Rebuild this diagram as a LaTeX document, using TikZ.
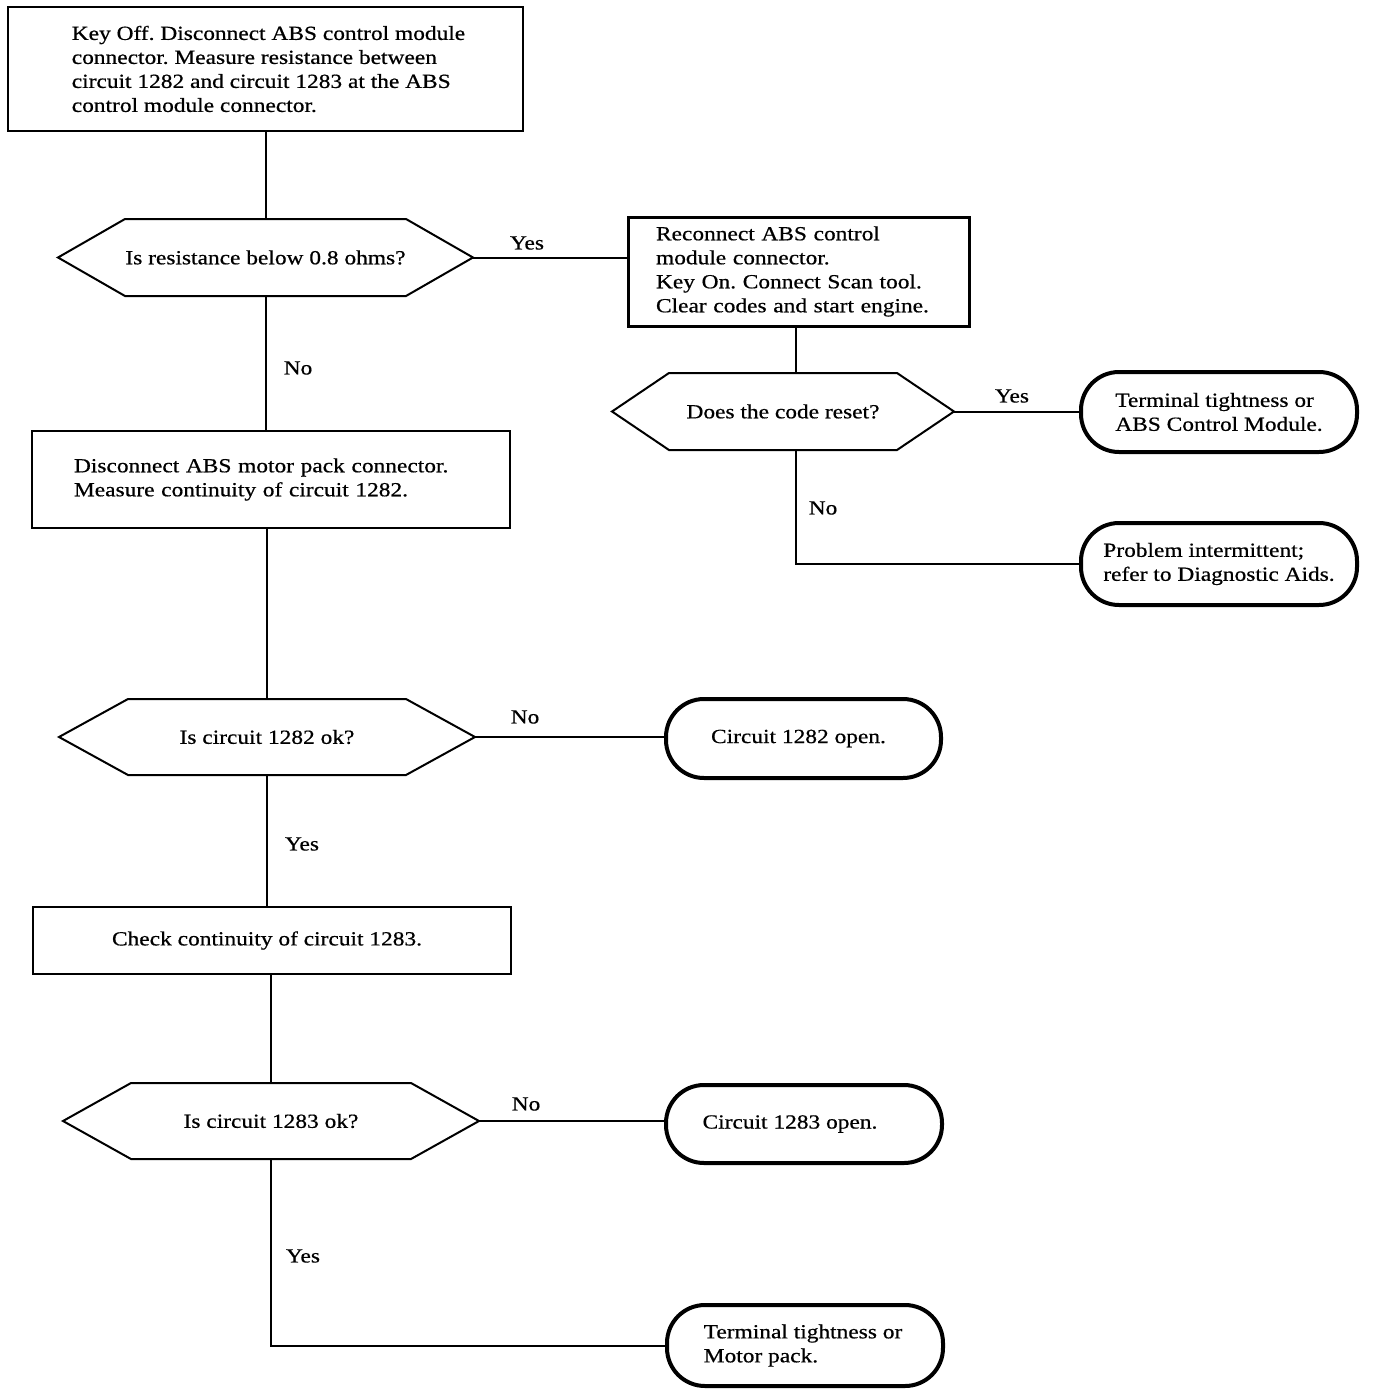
\documentclass[tikz,border=0pt]{standalone}
\usepackage{fontspec}
\setmainfont{Liberation Serif}[FakeStretch=1.17,FakeBold=0.6]
\frenchspacing
\newcommand\hexoutline[2]{%
  \draw[hexline] (#1.west) -- ([xshift=#2pt]#1.north west) -- ([xshift=-#2pt]#1.north east)
    -- (#1.east) -- ([xshift=-#2pt]#1.south east) -- ([xshift=#2pt]#1.south west) -- cycle;}
\begin{document}
\begin{tikzpicture}[x=1pt,y=-1pt,
  every node/.style={font=\fontsize{20}{24}\selectfont, inner sep=0pt, outer sep=0pt},
  box/.style={draw, line width=2pt, align=left},
  boxthick/.style={draw, line width=3pt, align=left},
  hexnode/.style={draw=none, minimum height=77pt},
  hexline/.style={line width=2pt, line join=miter},
  term/.style={draw, line width=4pt, rounded corners=38pt, align=left},
  conn/.style={line width=2pt},
  lbl/.style={}]
\fill[white] (0,0) rectangle (1376,1394);
\useasboundingbox (0,0) rectangle (1376,1394);

% process boxes
\node[box, minimum width=515pt, minimum height=124pt] (b1) at (265.5,69)
  {\hspace*{6pt}Key Off. Disconnect ABS control module\\\hspace*{6pt}connector. Measure resistance between\\\hspace*{6pt}circuit 1282 and circuit 1283 at the ABS\\\hspace*{6pt}control module connector.};
\node[boxthick, minimum width=341pt, minimum height=109pt, inner xsep=28pt, text width=285pt] (b2) at (798.5,271.5)
  {Reconnect ABS control\\module connector.\\Key On. Connect Scan tool.\\Clear codes and start engine.};
\node[box, minimum width=478pt, minimum height=97pt, inner xsep=42pt, text width=394pt] (b3) at (271,479.5)
  {Disconnect ABS motor pack connector.\\Measure continuity of circuit 1282.};
\node[box, minimum width=478pt, minimum height=67pt] (b4) at (272,940.5)
  {\hspace*{-10pt}Check continuity of circuit 1283.};

% decisions
\node[hexnode, minimum width=415pt] (h1) at (265.5,257.5) {Is resistance below 0.8 ohms?};
\node[hexnode, minimum width=342pt] (h2) at (783,411.5) {Does the code reset?};
\node[hexnode, minimum width=416pt, minimum height=76pt] (h3) at (267,737) {Is circuit 1282 ok?};
\node[hexnode, minimum width=416pt, minimum height=76pt] (h4) at (271,1121) {Is circuit 1283 ok?};
\hexoutline{h1}{67}
\hexoutline{h2}{57}
\hexoutline{h3}{69}
\hexoutline{h4}{68}

% terminals
\node[term, minimum width=276pt, minimum height=80pt] (t1) at (1219,412)
  {Terminal tightness or\\ABS Control Module.};
\node[term, minimum width=276pt, minimum height=82pt] (t2) at (1219,564)
  {Problem intermittent;\\refer to Diagnostic Aids.};
\node[term, minimum width=275pt, minimum height=79pt] (t3) at (803.5,738.5)
  {\hspace*{-10pt}Circuit 1282 open.};
\node[term, minimum width=276pt, minimum height=78pt] (t4) at (804,1124)
  {\hspace*{-28pt}Circuit 1283 open.};
\node[term, minimum width=276pt, minimum height=81pt] (t5) at (805,1345.5)
  {\hspace*{-4pt}Terminal tightness or\\\hspace*{-4pt}Motor pack.};

% connectors
\draw[conn] (b1.south) -- (h1.north);
\draw[conn] (h1.east) -- (h1.east -| b2.west);
\draw[conn] ([xshift=-3pt]b2.south) -- ([xshift=-3pt]b2.south |- h2.north);
\draw[conn] (h2.east) -- (h2.east -| t1.west);
\draw[conn] ([xshift=-3pt]b2.south |- h2.south) |- (t2.west);
\draw[conn] (h1.south) -- (h1.south |- b3.north);
\draw[conn] (h3.north |- b3.south) -- (h3.north);
\draw[conn] (h3.east) -- (h3.east -| t3.west);
\draw[conn] (h3.south) -- (h3.south |- b4.north);
\draw[conn] (h4.north |- b4.south) -- (h4.north);
\draw[conn] (h4.east) -- (h4.east -| t4.west);
\draw[conn] (h4.south) |- (t5.west);

% labels
\node[lbl] (l1) at (527,243) {Yes};
\node[lbl] (l2) at (1012,396) {Yes};
\node[lbl] (l3) at (823,508) {No};
\node[lbl] (l4) at (298,368) {No};
\node[lbl] (l5) at (525,717) {No};
\node[lbl] (l6) at (302,844) {Yes};
\node[lbl] (l7) at (526,1104) {No};
\node[lbl] (l8) at (303,1256) {Yes};
\end{tikzpicture}
\end{document}
